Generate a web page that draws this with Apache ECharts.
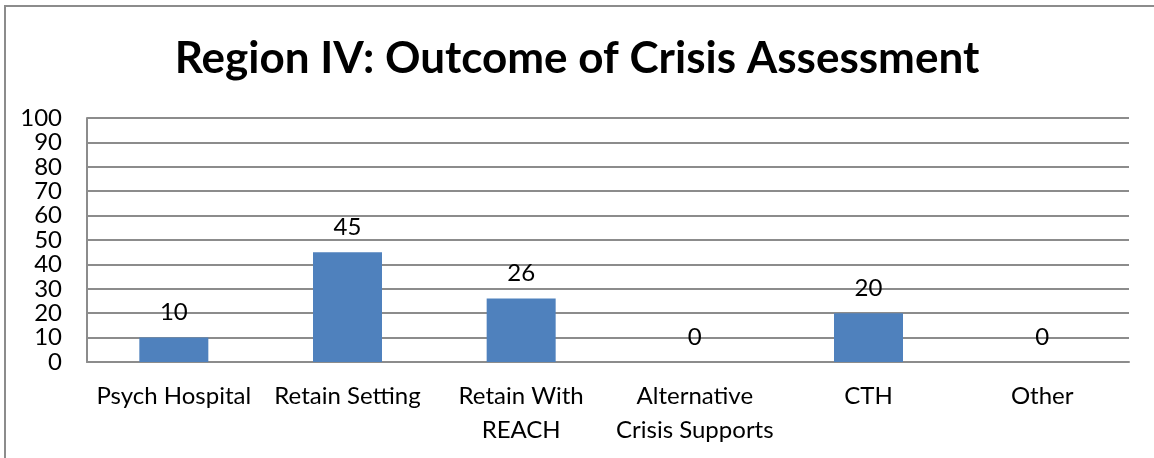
<!DOCTYPE html>
<html>
<head>
<meta charset="utf-8">
<script src="https://cdn.jsdelivr.net/npm/echarts@6/dist/echarts.min.js"></script>
<style>
html,body{margin:0;padding:0;background:#fff;}
#frame{position:absolute;left:4px;top:5px;width:1200px;height:500px;border-left:2px solid #8c8c8c;border-top:2px solid #8c8c8c;}
#chart{position:absolute;left:0;top:0;width:1154px;height:458px;}
</style>
</head>
<body>
<div id="frame"></div>
<div id="chart"></div>
<script>
const titleText = "Region IV: Outcome of Crisis Assessment";
const categories = ["Psych Hospital", "Retain Setting", "Retain With\nREACH", "Alternative\nCrisis Supports", "CTH", "Other"];
const values = [10, 45, 26, 0, 20, 0];
const yMin = 0, yMax = 100, yStep = 10;

const chart = echarts.init(document.getElementById('chart'));
chart.setOption({
  animation: false,
  backgroundColor: 'transparent',
  textStyle: { fontFamily: 'Lato' },
  title: {
    text: titleText,
    left: 'center',
    top: 32,
    textStyle: { fontFamily: 'Lato', fontWeight: 'bold', fontSize: 44, color: '#000' }
  },
  grid: { left: 87, right: 25, top: 118, bottom: 96, containLabel: false },
  xAxis: {
    type: 'category',
    data: categories,
    axisLine: { show: true, lineStyle: { color: '#8c8c8c', width: 2 } },
    axisTick: { show: false },
    axisLabel: { color: '#000', fontSize: 24, fontFamily: 'Lato', margin: 17, lineHeight: 34, interval: 0 },
    splitLine: { show: false }
  },
  yAxis: {
    type: 'value',
    min: yMin, max: yMax, interval: yStep,
    axisLine: { show: true, lineStyle: { color: '#8c8c8c', width: 2 } },
    axisTick: { show: false },
    axisLabel: { color: '#000', fontSize: 24, fontFamily: 'Lato', margin: 25 },
    splitLine: { show: true, lineStyle: { color: '#8c8c8c', width: 2 } }
  },
  series: [{
    type: 'bar',
    data: values,
    barWidth: 69,
    itemStyle: { color: '#4f81bd' },
    label: { show: true, position: 'top', distance: 13, color: '#000', fontSize: 24, fontFamily: 'Lato' }
  }]
});
</script>
</body>
</html>
